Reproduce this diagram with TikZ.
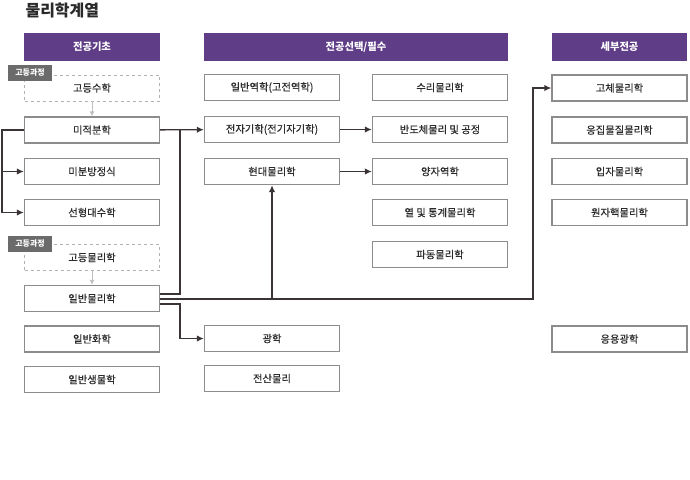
\documentclass[tikz,border=0pt]{standalone}
\usepackage{fontspec}
\setmainfont{Noto Sans CJK KR}
\usetikzlibrary{positioning, arrows.meta, calc}
\definecolor{mPurple}{HTML}{5F3E87}
\definecolor{mLine}{HTML}{3B3434}
\definecolor{mText}{HTML}{2A2A2A}

\begin{document}
\begin{tikzpicture}[x=1pt, y=-1pt,
  hdr/.style={fill=mPurple, text=white, minimum height=28pt,
              inner sep=0pt, font=\fontsize{10.3}{12}\selectfont\bfseries},
  course/.style={draw=black!45, line width=1.3pt, fill=white,
                 minimum width=135pt, minimum height=26pt, inner sep=0pt,
                 text=mText, font=\fontsize{10.3}{12}\selectfont\addfontfeature{FakeBold=0.4}},
  prep/.style={course, draw=black!30, line width=0.6pt, dashed},
  tag/.style={fill=black!58, text=white, minimum width=44pt, minimum height=16pt,
              inner sep=0pt, font=\fontsize{8}{9}\selectfont\bfseries},
  link/.style={draw=mLine, line width=1.4pt, -{Latex[length=7pt, width=6.5pt]}},
  soft/.style={draw=black!25, line width=0.8pt, -{Latex[length=5pt, width=5pt]}},
]
  \useasboundingbox (0,0) rectangle (690,479);

  \node[anchor=west, text=mText, font=\fontsize{16}{18}\selectfont\bfseries]
    (title) at (22,10) {물리학계열};

  % column headers
  \node[hdr, minimum width=136pt] (hBase) at (92,47) {전공기초};
  \node[hdr, minimum width=304pt] (hSel) at (356,47) {전공선택/필수};
  \node[hdr, minimum width=135pt] (hDet) at (619.5,47) {세부전공};

  % basic courses
  \node[prep] (hsMath) at (92,88) {고등수학};
  \node[course] (calc) at (92,130) {미적분학};
  \node[course] (diffeq) at (92,171.5) {미분방정식};
  \node[course] (linalg) at (92,212.5) {선형대수학};
  \node[prep] (hsPhys) at (92,257.5) {고등물리학};
  \node[course] (genPhys) at (92,298.5) {일반물리학};
  \node[course] (genChem) at (92,339) {일반화학};
  \node[course] (genBio) at (92,379.5) {일반생물학};
  \node[tag] (tag1) at (30,73) {고등과정};
  \node[tag] (tag2) at (30,244) {고등과정};

  % elective / required
  \node[course] (mech) at (272,87.5) {일반역학(고전역학)};
  \node[course] (em) at (272,129.5) {전자기학(전기자기학)};
  \node[course] (modern) at (272,171.5) {현대물리학};
  \node[course] (optics) at (272,338.5) {광학};
  \node[course] (comp) at (272,378.5) {전산물리};
  \node[course] (mathPhys) at (440,87.5) {수리물리학};
  \node[course] (semi) at (440,129.5) {반도체물리 및 공정};
  \node[course] (quantum) at (440,171.5) {양자역학};
  \node[course] (thermo) at (440,212.5) {열 및 통계물리학};
  \node[course] (wave) at (440,254.5) {파동물리학};

  % specialisations
  \node[course] (solid) at (619.5,88) {고체물리학};
  \node[course] (cond) at (619.5,130) {응집물질물리학};
  \node[course] (particle) at (619.5,171.5) {입자물리학};
  \node[course] (nuclear) at (619.5,212.5) {원자핵물리학};
  \node[course] (appOpt) at (619.5,339) {응용광학};

  % junctions
  \coordinate (left) at (2,130);
  \coordinate (jUp) at (180,130);
  \coordinate (jLong) at (533,299);
  \coordinate (gpA) at ($(genPhys.east)+(0,-4.5)$);
  \coordinate (gpB) at ($(genPhys.east)+(0,0.5)$);
  \coordinate (gpC) at ($(genPhys.east)+(0,5.5)$);

  \draw[soft] (hsMath) -- (calc);
  \draw[soft] (hsPhys) -- (genPhys);

  \draw[link] (calc.west) -- (left) |- (diffeq.west);
  \draw[link] (left) |- (linalg.west);
  \draw[link] (calc) -- (em);
  \draw[draw=mLine, line width=1.4pt] (gpA) -| (jUp);
  \draw[link] (gpB) -| (jLong) |- (solid.west);
  \draw[link] (modern.south |- gpB) -- (modern.south);
  \draw[link] (gpC) -| (180,338.5) -- (optics.west);
  \draw[link] (em) -- (semi);
  \draw[link] (modern) -- (quantum);
\end{tikzpicture}
\end{document}
